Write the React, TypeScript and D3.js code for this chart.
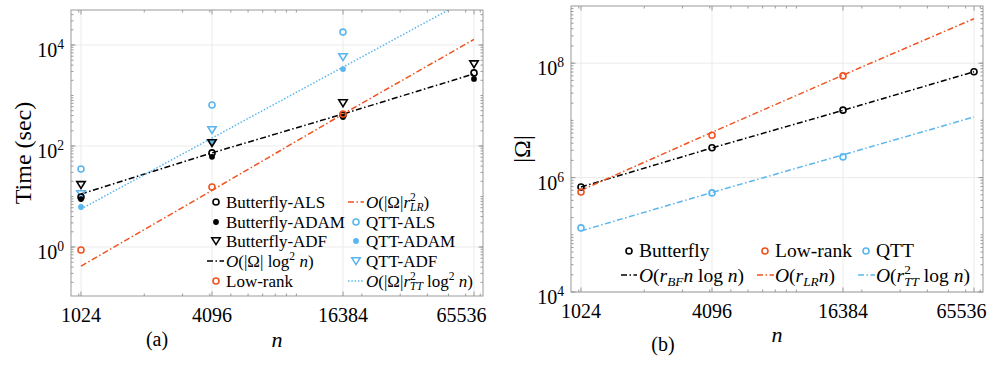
import React from 'react';
import * as d3 from 'd3';

// n values (x axis)
const nTicks = [1024, 4096, 16384, 65536];
const nLabels = ['1024', '4096', '16384', '65536'];

// panel (a): time in seconds
const bfAlsTime = [9.8, 73, 410, 2800];
const bfAdamTime = [8.9, 61, 375, 2130];
const bfAdfTime = [17, 115, 710, 4200];
const bfFitTime = [11.2, 73, 430, 2680];
const lrTime = [0.87, 15.4, 430];
const lrFitTime = [0.42, 13.2, 430, 12900];
const qttAlsTime = [35, 650, 18000];
const qttAdamTime = [6.2, 120, 3330];
const qttAdfTime = [11.2, 208, 5800];
const qttFitTime = [5.66, 144, 3650, 93000];
const timeTicks = [1, 100, 10000];

// panel (b): |Omega|
const bfOmega = [6.85e5, 3.33e6, 1.51e7, 7.1e7];
const bfFitOmega = [6.85e5, 3.3e6, 1.5e7, 7.1e7];
const lrOmega = [5.6e5, 5.5e6, 6.0e7];
const lrFitOmega = [6.0e5, 6.2e6, 6.2e7, 6.0e8];
const qttOmega = [1.32e5, 5.4e5, 2.3e6];
const qttFitOmega = [1.17e5, 5.5e5, 2.5e6, 1.15e7];
const omegaTicks = [1e4, 1e6, 1e8];

const BLACK = '#000';
const ORANGE = '#F0521F';
const BLUE = '#5BB6EE';
const AXIS = '#9a9a9a';
const GRID = '#ebebeb';
const FONT = 'Liberation Serif, DejaVu Serif, serif';
const DASHDOT = '6,2.5,1.5,2.5';
const DOTTED = '1.5,1.8';

type Part = { t: string; i?: boolean; sup?: boolean; sub?: boolean; dx?: number };

const MathText = ({ x, y, parts, size, anchor = 'start' }: { x: number; y: number; parts: Part[]; size: number; anchor?: string }) => {
  let cur = 0;
  return (
    <text x={x} y={y} textAnchor={anchor} style={{ whiteSpace: 'pre', fontFamily: FONT, fontSize: size }}>
      {parts.map((p, k) => {
        const off = p.sup ? -size * 0.4 : p.sub ? size * 0.22 : 0;
        const dy = off - cur;
        cur = off;
        return (
          <tspan
            key={k}
            dy={dy}
            dx={p.dx}
            style={{ fontStyle: p.i ? 'italic' : 'normal', fontSize: p.sup || p.sub ? size * 0.68 : size }}
          >
            {p.t}
          </tspan>
        );
      })}
    </text>
  );
};

const Txt = ({ children, size = 16, ...rest }: any) => (
  <text {...rest} style={{ fontFamily: FONT, fontSize: size }}>
    {children}
  </text>
);

const Circle = ({ x, y, color, filled = false }: any) =>
  filled ? <circle cx={x} cy={y} r={2.9} fill={color} /> : <circle cx={x} cy={y} r={3} fill="none" stroke={color} strokeWidth={1.6} />;

const Tri = ({ x, y, color }: any) => (
  <path d={`M${x - 4.2},${y - 3.2}L${x + 4.2},${y - 3.2}L${x},${y + 3.6}Z`} fill="none" stroke={color} strokeWidth={1.6} />
);

type PanelProps = {
  id: string;
  left: number;
  right: number;
  top: number;
  bottom: number;
  x0: number;
  x1: number;
  yScale: d3.ScaleLogarithmic<number, number>;
  yTicks: number[];
  children: (x: d3.ScaleLogarithmic<number, number>) => React.ReactNode;
};

const Panel = ({ id, left, right, top, bottom, x0, x1, yScale, yTicks, children }: PanelProps) => {
  const x = d3.scaleLog().base(2).domain([1024, 65536]).range([x0, x1]);
  const xd = [x.invert(left), x.invert(right)];
  const yd = [yScale.invert(bottom), yScale.invert(top)];
  const minor = (lo: number, hi: number) => {
    const out: number[] = [];
    for (let e = Math.floor(Math.log10(lo)); e <= Math.ceil(Math.log10(hi)); e++)
      for (let k = 1; k <= 9; k++) {
        const v = k * Math.pow(10, e);
        if (v > lo && v < hi) out.push(v);
      }
    return out;
  };
  const xMinor = minor(xd[0], xd[1]);
  const yMinor = minor(yd[0], yd[1]);
  return (
    <g>
      <defs>
        <clipPath id={id}>
          <rect x={left} y={top} width={right - left} height={bottom - top} />
        </clipPath>
      </defs>
      {nTicks.map((t) => (
        <line key={'gx' + t} x1={x(t)} x2={x(t)} y1={top} y2={bottom} stroke={GRID} />
      ))}
      {yTicks.map((t) => (
        <line key={'gy' + t} x1={left} x2={right} y1={yScale(t)} y2={yScale(t)} stroke={GRID} />
      ))}
      {xMinor.map((t) => (
        <g key={'mx' + t} stroke={AXIS}>
          <line x1={x(t)} x2={x(t)} y1={bottom} y2={bottom - 2.5} />
          <line x1={x(t)} x2={x(t)} y1={top} y2={top + 2.5} />
        </g>
      ))}
      {yMinor.map((t) => (
        <g key={'my' + t} stroke={AXIS}>
          <line x1={left} x2={left + 2.5} y1={yScale(t)} y2={yScale(t)} />
          <line x1={right} x2={right - 2.5} y1={yScale(t)} y2={yScale(t)} />
        </g>
      ))}
      {nTicks.map((t) => (
        <g key={'tx' + t} stroke={AXIS}>
          <line x1={x(t)} x2={x(t)} y1={bottom} y2={bottom - 4.5} />
          <line x1={x(t)} x2={x(t)} y1={top} y2={top + 4.5} />
        </g>
      ))}
      {yTicks.map((t) => (
        <g key={'ty' + t} stroke={AXIS}>
          <line x1={left} x2={left + 4.5} y1={yScale(t)} y2={yScale(t)} />
          <line x1={right} x2={right - 4.5} y1={yScale(t)} y2={yScale(t)} />
        </g>
      ))}
      <rect x={left} y={top} width={right - left} height={bottom - top} fill="none" stroke={AXIS} />
      {nTicks.map((t, k) => {
        const last = k === nTicks.length - 1;
        return (
          <Txt key={'lx' + t} x={last ? x(t) + 12.5 : x(t)} y={bottom + 25.5} size={20} textAnchor={last ? 'end' : 'middle'}>
            {nLabels[k]}
          </Txt>
        );
      })}
      {yTicks.map((t) => (
        <MathText
          key={'ly' + t}
          x={left - 7}
          y={yScale(t) + 12}
          size={20}
          anchor="end"
          parts={[{ t: '10' }, { t: String(Math.round(Math.log10(t))), sup: true }]}
        />
      ))}
      <g clipPath={`url(#${id})`}>{children(x)}</g>
    </g>
  );
};

const fitLine = (x: any, y: any, vals: number[], color: string, dash: string) => {
  const line = d3
    .line<number>()
    .x((_, k) => x(nTicks[k]))
    .y((v) => y(v));
  return <path d={line(vals) || ''} fill="none" stroke={color} strokeWidth={1.5} strokeDasharray={dash} />;
};

export default function App() {
  const yA = d3.scaleLog().domain([1, 10000]).range([247, 45]);
  const yB = d3.scaleLog().domain([1e4, 1e9]).range([292, 6]);

  const legA1 = 216;
  const legA2 = 356;
  const rowsA = [202, 222, 241, 261, 281];
  const fs = 17;
  const fb = 19.5;

  return (
    <svg width={996} height={369} style={{ position: 'absolute', left: 0, top: 0, display: 'block' }}>
      <rect x={0} y={0} width={996} height={369} fill="#fff" />
      {/* panel (a) */}
      <Panel id="clipA" left={71} right={483} top={10} bottom={296} x0={81} x1={474} yScale={yA} yTicks={timeTicks}>
        {(x) => (
          <g>
            {fitLine(x, yA, bfFitTime, BLACK, DASHDOT)}
            {fitLine(x, yA, lrFitTime, ORANGE, DASHDOT)}
            {fitLine(x, yA, qttFitTime, BLUE, DOTTED)}
            {qttAlsTime.map((v, k) => <Circle key={'qa' + k} x={x(nTicks[k])} y={yA(v)} color={BLUE} />)}
            {qttAdamTime.map((v, k) => <Circle key={'qd' + k} x={x(nTicks[k])} y={yA(v)} color={BLUE} filled />)}
            {qttAdfTime.map((v, k) => <Tri key={'qf' + k} x={x(nTicks[k])} y={yA(v)} color={BLUE} />)}
            {bfAdfTime.map((v, k) => <Tri key={'bf' + k} x={x(nTicks[k])} y={yA(v)} color={BLACK} />)}
            {bfAdamTime.map((v, k) => <Circle key={'bd' + k} x={x(nTicks[k])} y={yA(v)} color={BLACK} filled />)}
            {bfAlsTime.map((v, k) => <Circle key={'ba' + k} x={x(nTicks[k])} y={yA(v)} color={BLACK} />)}
            {lrTime.map((v, k) => <Circle key={'lr' + k} x={x(nTicks[k])} y={yA(v)} color={ORANGE} />)}
          </g>
        )}
      </Panel>
      {/* legend (a) */}
      <Circle x={legA1} y={rowsA[0]} color={BLACK} />
      <Circle x={legA1} y={rowsA[1]} color={BLACK} filled />
      <Tri x={legA1} y={rowsA[2]} color={BLACK} />
      <line x1={207} x2={224} y1={rowsA[3]} y2={rowsA[3]} stroke={BLACK} strokeWidth={1.5} strokeDasharray={DASHDOT} />
      <Circle x={legA1} y={rowsA[4]} color={ORANGE} />
      <Txt x={226} y={rowsA[0] + 5.5} size={fs}>Butterfly-ALS</Txt>
      <Txt x={226} y={rowsA[1] + 5.5} size={fs}>Butterfly-ADAM</Txt>
      <Txt x={226} y={rowsA[2] + 5.5} size={fs}>Butterfly-ADF</Txt>
      <MathText
        x={226}
        y={rowsA[3] + 5.5}
        size={fs}
        parts={[{ t: 'O', i: true }, { t: '(|Ω| log' }, { t: '2', sup: true }, { t: ' ' }, { t: 'n', i: true }, { t: ')' }]}
      />
      <Txt x={226} y={rowsA[4] + 5.5} size={fs}>Low-rank</Txt>

      <line x1={348} x2={364} y1={rowsA[0]} y2={rowsA[0]} stroke={ORANGE} strokeWidth={1.5} strokeDasharray={DASHDOT} />
      <Circle x={legA2} y={rowsA[1]} color={BLUE} />
      <Circle x={legA2} y={rowsA[2]} color={BLUE} filled />
      <Tri x={legA2} y={rowsA[3]} color={BLUE} />
      <line x1={348} x2={364} y1={rowsA[4]} y2={rowsA[4]} stroke={BLUE} strokeWidth={1.5} strokeDasharray={DOTTED} />
      <MathText
        x={366}
        y={rowsA[0] + 5.5}
        size={fs}
        parts={[{ t: 'O', i: true }, { t: '(|Ω|' }, { t: 'r', i: true }, { t: '2', sup: true }, { t: 'LR', i: true, sub: true, dx: -5.8 }, { t: ')' }]}
      />
      <Txt x={366} y={rowsA[1] + 5.5} size={fs}>QTT-ALS</Txt>
      <Txt x={366} y={rowsA[2] + 5.5} size={fs}>QTT-ADAM</Txt>
      <Txt x={366} y={rowsA[3] + 5.5} size={fs}>QTT-ADF</Txt>
      <MathText
        x={366}
        y={rowsA[4] + 5.5}
        size={fs}
        parts={[
          { t: 'O', i: true },
          { t: '(|Ω|' },
          { t: 'r', i: true },
          { t: '2', sup: true },
          { t: 'TT', i: true, sub: true, dx: -5.8 },
          { t: ' log' },
          { t: '2', sup: true },
          { t: ' ' },
          { t: 'n', i: true },
          { t: ')' },
        ]}
      />
      <Txt transform="translate(31,153) rotate(-90)" size={24} textAnchor="middle">Time (sec)</Txt>
      <text x={277} y={347} textAnchor="middle" style={{ fontFamily: FONT, fontSize: 22, fontStyle: 'italic' }}>n</text>
      <Txt x={157} y={346} size={20} textAnchor="middle">(a)</Txt>

      {/* panel (b) */}
      <Panel id="clipB" left={571} right={983} top={6} bottom={292} x0={581} x1={974} yScale={yB} yTicks={omegaTicks}>
        {(x) => (
          <g>
            {fitLine(x, yB, bfFitOmega, BLACK, DASHDOT)}
            {fitLine(x, yB, lrFitOmega, ORANGE, DASHDOT)}
            {fitLine(x, yB, qttFitOmega, BLUE, DASHDOT)}
            {bfOmega.map((v, k) => <Circle key={'bo' + k} x={x(nTicks[k])} y={yB(v)} color={BLACK} />)}
            {lrOmega.map((v, k) => <Circle key={'lo' + k} x={x(nTicks[k])} y={yB(v)} color={ORANGE} />)}
            {qttOmega.map((v, k) => <Circle key={'qo' + k} x={x(nTicks[k])} y={yB(v)} color={BLUE} />)}
          </g>
        )}
      </Panel>
      {/* legend (b) */}
      <Circle x={629} y={251} color={BLACK} />
      <Txt x={639} y={257} size={fb}>Butterfly</Txt>
      <Circle x={765} y={251} color={ORANGE} />
      <Txt x={775} y={257} size={fb}>Low-rank</Txt>
      <Circle x={866} y={251} color={BLUE} />
      <Txt x={876} y={257} size={fb}>QTT</Txt>
      <line x1={621} x2={637} y1={275} y2={275} stroke={BLACK} strokeWidth={1.5} strokeDasharray={DASHDOT} />
      <MathText
        x={639}
        y={281.5}
        size={fb}
        parts={[{ t: 'O', i: true }, { t: '(' }, { t: 'r', i: true }, { t: 'BF', i: true, sub: true }, { t: 'n', i: true }, { t: ' log ' }, { t: 'n', i: true }, { t: ')' }]}
      />
      <line x1={757} x2={774} y1={275} y2={275} stroke={ORANGE} strokeWidth={1.5} strokeDasharray={DASHDOT} />
      <MathText
        x={775}
        y={281.5}
        size={fb}
        parts={[{ t: 'O', i: true }, { t: '(' }, { t: 'r', i: true }, { t: 'LR', i: true, sub: true }, { t: 'n', i: true }, { t: ')' }]}
      />
      <line x1={858} x2={875} y1={275} y2={275} stroke={BLUE} strokeWidth={1.5} strokeDasharray={DASHDOT} />
      <MathText
        x={876}
        y={281.5}
        size={fb}
        parts={[
          { t: 'O', i: true },
          { t: '(' },
          { t: 'r', i: true },
          { t: '2', sup: true },
          { t: 'TT', i: true, sub: true, dx: -6.6 },
          { t: ' log ' },
          { t: 'n', i: true },
          { t: ')' },
        ]}
      />
      <Txt transform="translate(530,149) rotate(-90)" size={24} textAnchor="middle">|Ω|</Txt>
      <text x={777} y={342} textAnchor="middle" style={{ fontFamily: FONT, fontSize: 22, fontStyle: 'italic' }}>n</text>
      <Txt x={663} y={351} size={20} textAnchor="middle">(b)</Txt>
    </svg>
  );
}
